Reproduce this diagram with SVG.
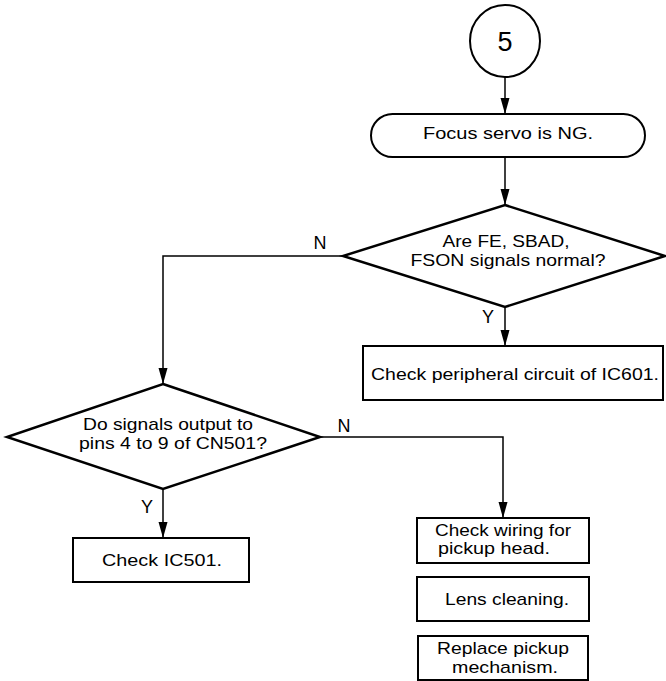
<svg xmlns="http://www.w3.org/2000/svg" width="666" height="681" viewBox="0 0 666 681">
  <defs>
    <marker id="arr" markerUnits="userSpaceOnUse" markerWidth="16" markerHeight="10" refX="16" refY="5" orient="auto">
      <path d="M0,0.5 L16,5 L0,9.5 z" fill="#000"/>
    </marker>
    <style>
      .shape { fill: #fff; stroke: #000; stroke-width: 2; }
      .dia { fill: #fff; stroke: #000; stroke-width: 2.5; stroke-linejoin: miter; }
      .conn { fill: none; stroke: #000; stroke-width: 1.5; }
      .t { font-family: "Liberation Sans", Arial, Helvetica, sans-serif; font-size: 17px; fill: #000; text-anchor: middle; }
      .lbl { font-family: "Liberation Sans", Arial, Helvetica, sans-serif; font-size: 18px; fill: #000; text-anchor: middle; }
    </style>
  </defs>
  <rect width="666" height="681" fill="#fff"/>

  <g id="connectors">
    <line class="conn" x1="505" y1="77" x2="505" y2="114" marker-end="url(#arr)"/>
    <line class="conn" x1="505" y1="157" x2="505" y2="205" marker-end="url(#arr)"/>
    <polyline class="conn" points="343,256 163,256 163,384" marker-end="url(#arr)"/>
    <line class="conn" x1="505" y1="307" x2="505" y2="346" marker-end="url(#arr)"/>
    <polyline class="conn" points="320,437 503,437 503,518" marker-end="url(#arr)"/>
    <line class="conn" x1="163" y1="489" x2="163" y2="538" marker-end="url(#arr)"/>
    <text class="lbl" x="320" y="249">N</text>
    <text class="lbl" x="488" y="323">Y</text>
    <text class="lbl" x="344" y="432">N</text>
    <text class="lbl" x="147" y="513">Y</text>
  </g>

  <g id="start">
    <ellipse class="shape" cx="505" cy="41" rx="35" ry="36"/>
    <text class="t" x="505" y="51" style="font-size:27px">5</text>
  </g>

  <g id="focus-ng">
    <rect class="shape" x="371" y="114" width="274" height="43" rx="21.5" ry="21.5"/>
    <text class="t" x="508" y="139" textLength="170" lengthAdjust="spacingAndGlyphs">Focus servo is NG.</text>
  </g>

  <g id="decision-fe">
    <polygon class="dia" points="505,205 665,256 505,307 343,256"/>
    <text class="t" x="506" y="247" textLength="127" lengthAdjust="spacingAndGlyphs">Are FE, SBAD,</text>
    <text class="t" x="508" y="266" textLength="195" lengthAdjust="spacingAndGlyphs">FSON signals normal?</text>
  </g>

  <g id="check-ic601">
    <rect class="shape" x="363" y="346" width="300" height="54"/>
    <text class="t" x="515" y="380" textLength="288" lengthAdjust="spacingAndGlyphs">Check peripheral circuit of IC601.</text>
  </g>

  <g id="decision-cn501">
    <polygon class="dia" points="163,384 320,437 163,489 7,437"/>
    <text class="t" x="168" y="430" textLength="170" lengthAdjust="spacingAndGlyphs">Do signals output to</text>
    <text class="t" x="173" y="449" textLength="188" lengthAdjust="spacingAndGlyphs">pins 4 to 9 of CN501?</text>
  </g>

  <g id="check-ic501">
    <rect class="shape" x="73" y="538" width="176" height="44"/>
    <text class="t" x="162" y="566" textLength="120" lengthAdjust="spacingAndGlyphs">Check IC501.</text>
  </g>

  <g id="check-wiring">
    <rect class="shape" x="417" y="518" width="172" height="45"/>
    <text class="t" x="503" y="536" textLength="136" lengthAdjust="spacingAndGlyphs">Check wiring for</text>
    <text class="t" x="494" y="554" textLength="112" lengthAdjust="spacingAndGlyphs">pickup head.</text>
  </g>

  <g id="lens-cleaning">
    <rect class="shape" x="417" y="577" width="172" height="44"/>
    <text class="t" x="507" y="605" textLength="124" lengthAdjust="spacingAndGlyphs">Lens cleaning.</text>
  </g>

  <g id="replace-pickup">
    <rect class="shape" x="418" y="636" width="170" height="44"/>
    <text class="t" x="503" y="654" textLength="132" lengthAdjust="spacingAndGlyphs">Replace pickup</text>
    <text class="t" x="505" y="673" textLength="106" lengthAdjust="spacingAndGlyphs">mechanism.</text>
  </g>
</svg>
